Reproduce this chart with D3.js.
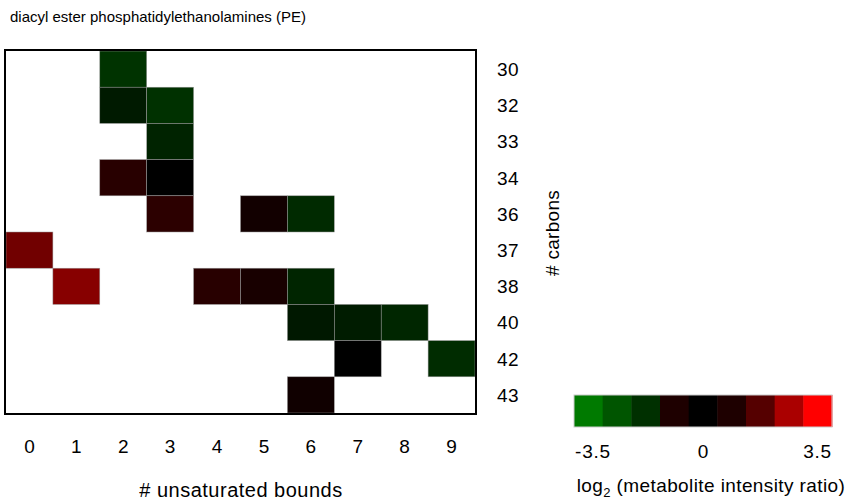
<!DOCTYPE html>
<html>
<head>
<meta charset="utf-8">
<script src="https://cdn.jsdelivr.net/npm/d3@7"></script>
<style>
body { margin: 0; background: #fff; }
text { font-family: Arial, "Liberation Sans", sans-serif; fill: #000; }
</style>
</head>
<body>
<div id="chart"></div>
<script>
// columns = number of unsaturated bounds, rows = number of carbons
var bounds = [0, 1, 2, 3, 4, 5, 6, 7, 8, 9];
var carbons = [30, 32, 33, 34, 36, 37, 38, 40, 42, 43];

// log2 ratio per cell
var cellCarbon = [30, 32, 32, 33, 34, 34, 36, 36, 36, 37, 38, 38, 38, 38, 40, 40, 40, 42, 42, 43];
var cellBound  = [2,  2,  3,  3,  2,  3,  3,  5,  6,  0,  1,  4,  5,  6,  6,  7,  8,  7,  9,  6];
var cellValue  = [-1.45, -0.75, -1.4, -1.0, 0.55, 0, 0.6, 0.25, -1.2, 1.55, 1.85, 0.55, 0.33, -1.05, -0.7, -0.8, -1.1, 0, -1.25, 0.22];

// colour key
var legendColors = ["#007a00", "#005500", "#003000", "#1e0000", "#000000", "#1e0000", "#550000", "#aa0000", "#ff0000"];
var legendTicks = [-3.5, 0, 3.5];

var width = 846, height = 503;
var svg = d3.select("#chart").append("svg")
    .attr("width", width)
    .attr("height", height);

var x = d3.scaleBand().domain(bounds).range([6, 475]);
var y = d3.scaleBand().domain(carbons).range([51, 413]);
var color = d3.scaleLinear()
    .domain([-3.5, 0, 3.5])
    .range(["#007a00", "#000000", "#ff0000"]);

var cells = cellValue.map(function(v, i) {
  return {c: cellCarbon[i], b: cellBound[i], v: v};
});

svg.append("text")
    .attr("x", 10)
    .attr("y", 22)
    .style("font-size", "15px")
    .text("diacyl ester phosphatidylethanolamines (PE)");

svg.selectAll(".cell")
    .data(cells)
    .enter()
    .append("rect")
    .attr("class", "cell")
    .attr("x", function(d) { return x(d.b); })
    .attr("y", function(d) { return y(d.c); })
    .attr("width", x.bandwidth())
    .attr("height", y.bandwidth())
    .style("fill", function(d) { return color(d.v); })
    .style("stroke", "#999")
    .style("stroke-width", 0.5);

svg.append("rect")
    .attr("x", 5)
    .attr("y", 50)
    .attr("width", 471)
    .attr("height", 364)
    .style("fill", "none")
    .style("stroke", "#000")
    .style("stroke-width", 2);

// x labels
svg.selectAll(".xlab")
    .data(bounds)
    .enter()
    .append("text")
    .attr("class", "xlab")
    .attr("x", function(d) { return x(d) + x.bandwidth() / 2; })
    .attr("y", 453)
    .attr("text-anchor", "middle")
    .style("font-size", "19px")
    .text(function(d) { return d; });

svg.append("text")
    .attr("x", 241)
    .attr("y", 497)
    .attr("text-anchor", "middle")
    .style("font-size", "20px")
    .style("letter-spacing", "0.5px")
    .text("# unsaturated bounds");

// y labels on the right
svg.selectAll(".ylab")
    .data(carbons)
    .enter()
    .append("text")
    .attr("class", "ylab")
    .attr("x", 497)
    .attr("y", function(d) { return y(d) + y.bandwidth() / 2; })
    .attr("dy", "0.36em")
    .style("font-size", "19px")
    .style("letter-spacing", "0.5px")
    .text(function(d) { return d; });

svg.append("text")
    .attr("transform", "translate(559,233) rotate(-90)")
    .attr("text-anchor", "middle")
    .style("font-size", "19px")
    .style("letter-spacing", "0.3px")
    .text("# carbons");

// colour key
var lx = d3.scaleBand().domain(d3.range(legendColors.length)).range([574, 832]);
svg.selectAll(".key")
    .data(legendColors)
    .enter()
    .append("rect")
    .attr("class", "key")
    .attr("x", function(d, i) { return lx(i); })
    .attr("y", 395)
    .attr("width", lx.bandwidth() + 0.5)
    .attr("height", 32)
    .style("fill", function(d) { return d; });
svg.append("rect")
    .attr("x", 574)
    .attr("y", 395)
    .attr("width", 258)
    .attr("height", 32)
    .style("fill", "none")
    .style("stroke", "#ccc")
    .style("stroke-width", 1);

var tickScale = d3.scaleLinear().domain([-3.5, 3.5]).range([575, 832]);
svg.selectAll(".ktick")
    .data(legendTicks)
    .enter()
    .append("text")
    .attr("class", "ktick")
    .attr("x", function(d) { return tickScale(d); })
    .attr("y", 458)
    .attr("text-anchor", function(d, i) { return i == 0 ? "start" : (i == 2 ? "end" : "middle"); })
    .style("font-size", "19px")
    .style("letter-spacing", "0.8px")
    .text(function(d) { return d; });

var lt = svg.append("text")
    .attr("x", 711)
    .attr("y", 492)
    .attr("text-anchor", "middle")
    .style("font-size", "19px")
    .style("letter-spacing", "0.4px");
lt.append("tspan").text("log");
lt.append("tspan").attr("dy", 5).style("font-size", "13px").text("2");
lt.append("tspan").attr("dy", -5).text(" (metabolite intensity ratio)");
</script>
</body>
</html>
